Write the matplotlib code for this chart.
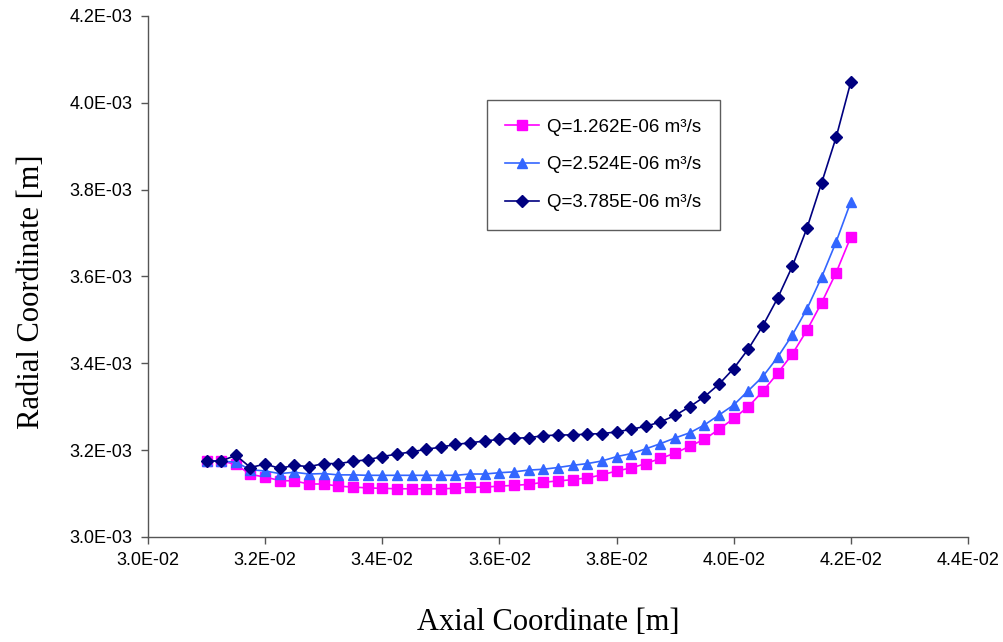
import numpy as np
import matplotlib
matplotlib.use("Agg")
import matplotlib.pyplot as plt
from matplotlib.ticker import FuncFormatter, MultipleLocator

# Axial positions (m): 45 stations, 0.031 .. 0.042
axial = np.linspace(0.031, 0.042, 45)

# Radial coordinate (mm, scaled to m below)
r_q1 = [3.175, 3.175, 3.167, 3.144, 3.138, 3.130, 3.129, 3.122, 3.122, 3.117,
        3.115, 3.113, 3.112, 3.111, 3.111, 3.111, 3.111, 3.112, 3.114, 3.115,
        3.117, 3.119, 3.121, 3.126, 3.129, 3.132, 3.136, 3.143, 3.152, 3.159,
        3.169, 3.181, 3.193, 3.209, 3.225, 3.248, 3.273, 3.300, 3.336, 3.377,
        3.421, 3.476, 3.539, 3.609, 3.691]
r_q2 = [3.175, 3.175, 3.172, 3.155, 3.152, 3.146, 3.149, 3.145, 3.146, 3.143,
        3.143, 3.142, 3.142, 3.142, 3.142, 3.142, 3.142, 3.142, 3.145, 3.145,
        3.148, 3.150, 3.154, 3.156, 3.160, 3.165, 3.169, 3.175, 3.185, 3.192,
        3.203, 3.215, 3.228, 3.240, 3.258, 3.281, 3.304, 3.337, 3.370, 3.414,
        3.465, 3.525, 3.598, 3.680, 3.772]
r_q3 = [3.175, 3.175, 3.188, 3.160, 3.168, 3.158, 3.165, 3.162, 3.169, 3.169,
        3.174, 3.178, 3.185, 3.191, 3.196, 3.202, 3.207, 3.213, 3.217, 3.221,
        3.225, 3.227, 3.229, 3.233, 3.235, 3.235, 3.237, 3.238, 3.242, 3.248,
        3.255, 3.265, 3.280, 3.300, 3.323, 3.352, 3.388, 3.433, 3.487, 3.550,
        3.623, 3.711, 3.815, 3.921, 4.048]

labels = ["Q=1.262E-06 m³/s", "Q=2.524E-06 m³/s", "Q=3.785E-06 m³/s"]
colors = ["#FF00FF", "#3366FF", "#000080"]
markers = ["s", "^", "D"]
sizes = [7, 7.5, 6]

fig = plt.figure(figsize=(10.04, 6.42), dpi=100)
ax = fig.add_axes([0.1474, 0.1636, 0.8167, 0.8115])

for r, lab, c, m, ms in zip([r_q1, r_q2, r_q3], labels, colors, markers, sizes):
    ax.plot(axial, np.array(r) * 1e-3, color=c, marker=m, markersize=ms,
            markeredgecolor=c, linewidth=1.2, label=lab)

ax.set_xlim(0.030, 0.044)
ax.set_ylim(0.0030, 0.0042)
ax.xaxis.set_major_locator(MultipleLocator(0.002))
ax.yaxis.set_major_locator(MultipleLocator(0.0002))
fmt = FuncFormatter(lambda v, p: f"{v:.1E}")
ax.xaxis.set_major_formatter(fmt)
ax.yaxis.set_major_formatter(fmt)

for s in ["top", "right"]:
    ax.spines[s].set_visible(False)
for s in ["left", "bottom"]:
    ax.spines[s].set_color("#555555")
    ax.spines[s].set_linewidth(1.0)
ax.tick_params(direction="out", length=5, width=1, color="#555555",
               labelsize=13, pad=6)
for t in ax.get_xticklabels() + ax.get_yticklabels():
    t.set_fontfamily("Liberation Sans")

ax.set_xlabel("Axial Coordinate [m]", fontsize=22, fontfamily="Liberation Serif")
ax.set_ylabel("Radial Coordinate [m]", fontsize=22, fontfamily="Liberation Serif")
ax.xaxis.set_label_coords(0.488, -0.137)
ax.yaxis.set_label_coords(-0.124, 0.47)

leg = ax.legend(loc="upper left", bbox_to_anchor=(0.413, 0.839),
                prop={"family": "Liberation Sans", "size": 13.5},
                frameon=True, fancybox=False, handlelength=1.8,
                labelspacing=1.1, borderpad=1.0, handletextpad=0.4,
                borderaxespad=0)
leg.get_frame().set_edgecolor("#333333")
leg.get_frame().set_linewidth(1.0)

fig.savefig("out.png", dpi=100)
